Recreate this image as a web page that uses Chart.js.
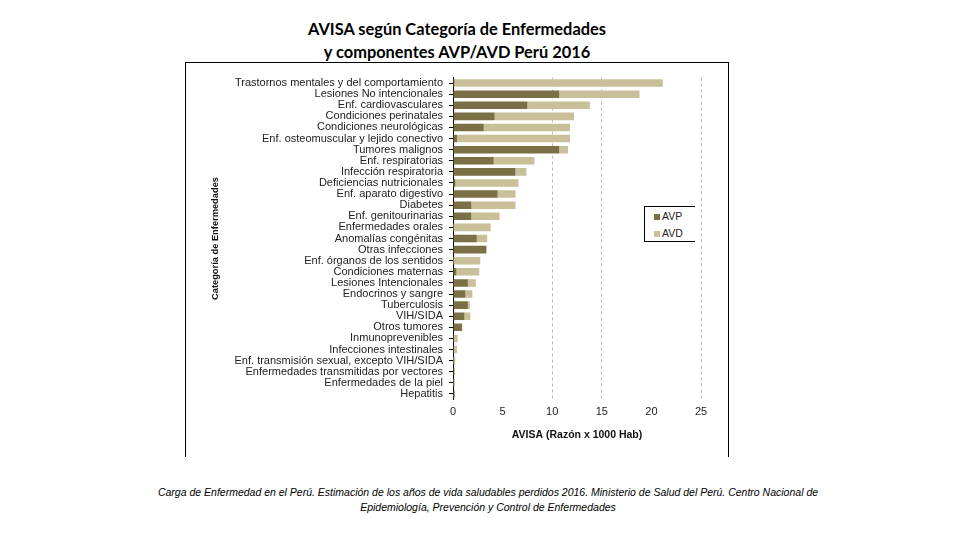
<!DOCTYPE html>
<html>
<head>
<meta charset="utf-8">
<script src="https://cdn.jsdelivr.net/npm/chart.js@4"></script>
<style>
  body { margin: 0; background: #fff; }
  #page { position: relative; width: 960px; height: 540px; overflow: hidden; }
  #title { position: absolute; left: 0; width: 914px; top: 17px; text-align: center;
    font-family: Lato, "Open Sans", sans-serif; font-weight: bold; font-size: 16.4px; line-height: 23px; color: #000; }
  #frame { position: absolute; left: 185px; top: 62px; width: 542px; height: 394px;
    border-top: 1px solid #000; border-left: 1px solid #000; border-right: 1px solid #000; background: #fff; }
  #legend { position: absolute; left: 644px; top: 206px; width: 50px; height: 34px;
    border-top: 1px solid #000; border-left: 1px solid #000; border-bottom: 1px solid #000; background: #fff;
    font-family: "Liberation Sans", Arial, sans-serif; font-size: 10.5px; color: #222; }
  .item { position: absolute; left: 9px; }
  .sw { display: inline-block; width: 6px; height: 6px; margin-right: 2px; }
  #caption { position: absolute; left: 120px; width: 736px; top: 485px; text-align: center;
    font-family: "Liberation Sans", Arial, sans-serif; font-style: italic; font-size: 10.5px; line-height: 15px; color: #000; }
</style>
</head>
<body>
<div id="page">
  <div id="title">AVISA según Categoría de Enfermedades<br>y componentes AVP/AVD Perú 2016</div>
  <div id="frame"><canvas id="chart" width="542" height="394"></canvas></div>
  <div id="legend"></div>
  <div id="caption">Carga de Enfermedad en el Perú. Estimación de los años de vida saludables perdidos 2016. Ministerio de Salud del Perú. Centro Nacional de<br>Epidemiología, Prevención y Control de Enfermedades</div>
</div>
<script>
// categorías de enfermedad
const categorias = [
  "Trastornos mentales y del comportamiento", "Lesiones No intencionales", "Enf. cardiovasculares",
  "Condiciones perinatales", "Condiciones neurológicas", "Enf. osteomuscular y lejido conectivo",
  "Tumores malignos", "Enf. respiratorias", "Infección respiratoria", "Deficiencias nutricionales",
  "Enf. aparato digestivo", "Diabetes", "Enf. genitourinarias", "Enfermedades orales",
  "Anomalías congénitas", "Otras infecciones", "Enf. órganos de los sentidos", "Condiciones maternas",
  "Lesiones Intencionales", "Endocrinos y sangre", "Tuberculosis", "VIH/SIDA", "Otros tumores",
  "Inmunoprevenibles", "Infecciones intestinales", "Enf. transmisión sexual, excepto VIH/SIDA",
  "Enfermedades transmitidas por vectores", "Enfermedades de la piel", "Hepatitis"
];

// AVP (años de vida perdidos)
const avp = [0.15, 10.7, 7.5, 4.2, 3.1, 0.4, 10.7, 4.1, 6.3, 0.25,
  4.5, 1.85, 1.85, 0, 2.4, 3.35, 0, 0.35, 1.5, 1.25,
  1.5, 1.15, 0.9, 0.1, 0.1, 0.05, 0.1, 0.05, 0.15];

// AVD (años vividos con discapacidad)
const avd = [21.0, 8.1, 6.3, 8.0, 8.7, 11.4, 0.9, 4.1, 1.1, 6.35,
  1.8, 4.45, 2.85, 3.8, 1.05, 0.05, 2.75, 2.3, 0.8, 0.7,
  0.2, 0.6, 0.05, 0.37, 0.3, 0.18, 0.1, 0.15, 0.05];

const xTicks = [0, 5, 10, 15, 20, 25];
const gridVisible = [10, 15, 25];

const colAVP = '#7b6f46';
const colAVD = '#c9c09a';

const ctx = document.getElementById('chart').getContext('2d');
const chart = new Chart(ctx, {
  type: 'bar',
  data: {
    labels: categorias,
    datasets: [
      { label: 'AVP', data: avp, backgroundColor: colAVP, categoryPercentage: 1, barPercentage: 0.68 },
      { label: 'AVD', data: avd, backgroundColor: colAVD, categoryPercentage: 1, barPercentage: 0.68 }
    ]
  },
  options: {
    indexAxis: 'y',
    responsive: false,
    animation: false,
    layout: { padding: { left: 0, top: 14.5, right: 27, bottom: 0 } },
    plugins: { legend: { display: false }, tooltip: { enabled: false } },
    scales: {
      x: {
        stacked: true,
        min: 0,
        max: 25,
        afterBuildTicks: (s) => { s.ticks = xTicks.map(v => ({ value: v })); },
        afterFit: (s) => { s.height = 57.5; },
        grid: {
          drawTicks: false,
          lineWidth: 1,
          color: (c) => gridVisible.includes(c.tick && c.tick.value) ? '#b8b8b8' : 'rgba(0,0,0,0)'
        },
        border: { display: false, dash: [3, 3] },
        ticks: { padding: 6, color: '#222', font: { family: 'Liberation Sans', size: 11 } },
        title: {
          display: true, text: 'AVISA (Razón x 1000 Hab)', color: '#111',
          font: { family: 'Liberation Sans', size: 10.5, weight: 'bold' },
          padding: { top: 0, bottom: 16 }
        }
      },
      y: {
        stacked: true,
        afterFit: (s) => { s.width = 267; },
        border: { display: true, color: '#000', width: 1 },
        grid: { drawOnChartArea: false, drawTicks: true, tickLength: 4, color: '#000', offset: false },
        ticks: { padding: 6, color: '#222', autoSkip: false, font: { family: 'Liberation Sans', size: 11 } },
        title: {
          display: true, text: 'Categoría de Enfermedades', color: '#111',
          font: { family: 'Liberation Sans', size: 9.3, weight: 'bold' },
          padding: { top: 24, bottom: 0 }
        }
      }
    }
  }
});

// leyenda
const legend = document.getElementById('legend');
chart.data.datasets.forEach((ds, i) => {
  const it = document.createElement('div');
  it.className = 'item';
  it.style.top = (3 + i * 17) + 'px';
  it.innerHTML = '<span class="sw" style="background:' + ds.backgroundColor + '"></span>' + ds.label;
  legend.appendChild(it);
});
</script>
</body>
</html>
